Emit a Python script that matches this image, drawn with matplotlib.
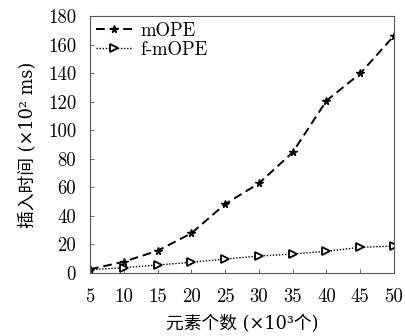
import matplotlib
matplotlib.use("Agg")
import matplotlib.pyplot as plt

x_vals = [5, 10, 15, 20, 25, 30, 35, 40, 45, 50]
mope = [2.6, 7.9, 15.6, 27.8, 48.3, 62.8, 84.5, 120.7, 139.8, 166.2]
fmope = [2.3, 3.7, 5.6, 7.5, 9.8, 11.9, 13.3, 15.2, 18.0, 18.9]
y_ticks = [0, 20, 40, 60, 80, 100, 120, 140, 160, 180]
series_names = ["mOPE", "f-mOPE"]
xlabel = "元素个数 (×10³个)"
ylabel = "插入时间 (×10² ms)"

num_font = "cmr10"
lab_family = ["DejaVu Serif", "Noto Sans CJK SC"]

fig = plt.figure(figsize=(4.06, 3.36), dpi=100)
ax = fig.add_axes([0.2217, 0.1875, 0.7487, 0.7645])

ax.plot(x_vals, mope, linestyle=(0, (4.5, 2.5)), color="black", linewidth=1.4,
        marker="*", markersize=5.5, label=series_names[0])
ax.plot(x_vals, fmope, linestyle=(0, (1, 1.2)), color="black", linewidth=1.0,
        marker=">", markersize=6, markerfacecolor="white", markeredgewidth=1.3,
        label=series_names[1])

ax.set_xlim(5, 50)
ax.set_ylim(0, 180)
ax.set_xticks(x_vals)
ax.set_xticklabels([str(v) for v in x_vals], fontfamily=num_font, fontsize=13.5)
ax.set_yticks(y_ticks)
ax.set_yticklabels([str(v) for v in y_ticks], fontfamily=num_font, fontsize=13.5)
ax.tick_params(direction="in", length=3, width=0.6, color="#555555")
ax.tick_params(axis="y", pad=10)
ax.tick_params(axis="x", pad=11)
for s in ax.spines.values():
    s.set_color("#555555")
    s.set_linewidth(0.8)

ax.set_xlabel(xlabel, family=lab_family, fontsize=12.8, labelpad=6)
ax.set_ylabel(ylabel, family=lab_family, fontsize=12.8, labelpad=8)

leg = ax.legend(loc="upper left", frameon=False, prop={"family": num_font, "size": 13.5},
                handlelength=2.0, handletextpad=0.4, borderaxespad=0.1,
                labelspacing=0.05, borderpad=0.2)

fig.savefig("out.png", dpi=100)
